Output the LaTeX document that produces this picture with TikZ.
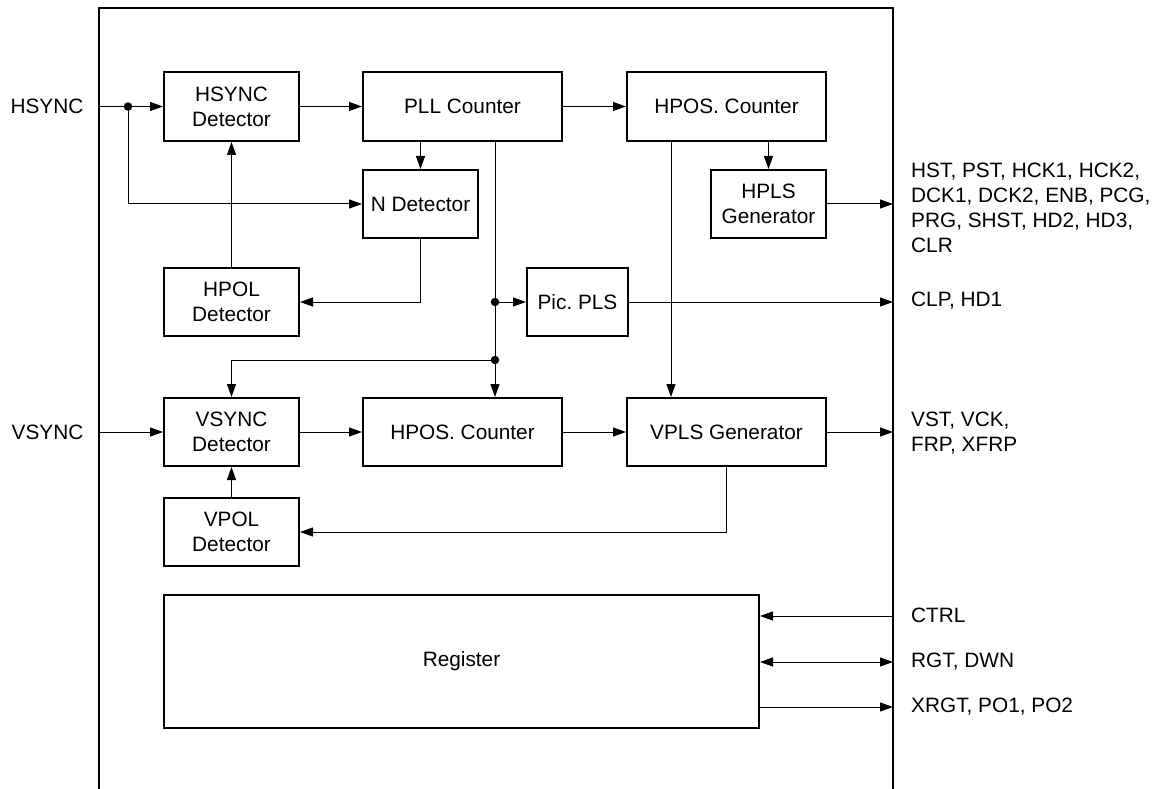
\documentclass[tikz,border=0pt]{standalone}
\usepackage{fontspec}
\setmainfont{Liberation Sans}
\usetikzlibrary{arrows.meta}
\frenchspacing
\begin{document}
\begin{tikzpicture}[x=1pt,y=-1pt,
  every node/.style={font=\fontsize{20.8}{25}\selectfont\frenchspacing},
  box/.style={draw,line width=2pt,align=center,inner sep=0pt},
  conn/.style={line width=1pt},
  arr/.style={conn,-{Triangle[length=13pt,width=9pt]}},
  darr/.style={conn,{Triangle[length=13pt,width=9pt]}-{Triangle[length=13pt,width=9pt]}},
  lbl/.style={anchor=west,align=left,inner sep=0pt},
  dot/.style={circle,fill,inner sep=0pt,minimum size=8.5pt}]
\useasboundingbox (0,0) rectangle (1163,789);
% frame (open at bottom)
\draw[line width=2pt] (99,792) -- (99,8) -- (893,8) -- (893,792);
\coordinate (FL) at (99,0);
\coordinate (FR) at (893,0);
% blocks
\node[box,minimum width=135pt,minimum height=69pt] (hsd) at (231.5,106.5) {HSYNC\\Detector};
\node[box,minimum width=199pt,minimum height=69pt] (pll) at (462.5,106.5) {PLL Counter};
\node[box,minimum width=199pt,minimum height=69pt] (hpt) at (726.5,106.5) {HPOS. Counter};
\node[box,minimum width=115pt,minimum height=68pt] (nd) at (420.5,204) {N Detector};
\node[box,minimum width=115pt,minimum height=68pt] (hpls) at (768.5,204) {HPLS\\Generator};
\node[box,minimum width=135pt,minimum height=68pt] (hpol) at (231.5,302) {HPOL\\Detector};
\node[box,minimum width=101pt,minimum height=68pt] (pic) at (577.5,302) {Pic. PLS};
\node[box,minimum width=135pt,minimum height=68pt] (vsd) at (231.5,432) {VSYNC\\Detector};
\node[box,minimum width=199pt,minimum height=68pt] (hpb) at (462.5,432) {HPOS. Counter};
\node[box,minimum width=199pt,minimum height=68pt] (vpls) at (726.5,432) {VPLS Generator};
\node[box,minimum width=135pt,minimum height=68pt] (vpol) at (231.5,532) {VPOL\\Detector};
\node[box,minimum width=595pt,minimum height=133pt] (reg) at (461.5,661.5) {Register};
% labels
\node (lh) at (47,106.5) {HSYNC};
\node (lv) at (47.5,432) {VSYNC};
\node[lbl] (o1) at (911,207.5) {HST, PST, HCK1, HCK2,\\DCK1, DCK2, ENB, PCG,\\PRG, SHST, HD2, HD3,\\CLR};
\node[lbl] (o2) at (911,301) {CLP, HD1};
\node[lbl] (o3) at (911,433) {VST, VCK,\\FRP, XFRP};
\node[lbl] (o4) at (911,615.5) {CTRL};
\node[lbl] (o5) at (911,661.5) {RGT, DWN};
\node[lbl] (o6) at (911,707) {XRGT, PO1, PO2};
% connectors
\coordinate (dh) at (128,106.5);
\draw[arr] (hsd.west -| FL) -- (hsd.west);
\node[dot] at (dh) {};
\draw[arr] (dh) |- (nd.west);
\draw[arr] (hsd.east) -- (pll.west);
\draw[arr] (pll.east) -- (hpt.west);
\draw[arr] (pll.south -| nd.north) -- (nd.north);
\draw[arr] (nd.south) |- (hpol.east);
\draw[arr] (hpol.north) -- (hsd.south);
\coordinate (d1) at (495,302);
\coordinate (d2) at (495,360);
\draw[conn] (pll.south -| d1) -- (d2);
\draw[arr] (d1) -- (pic.west);
\draw[arr] (d2) -- (hpb.north -| d2);
\draw[arr] (d2) -| (vsd.north);
\node[dot] at (d1) {};
\node[dot] at (d2) {};
\draw[arr] ([xshift=-55.5pt]hpt.south) -- ([xshift=-55.5pt]vpls.north);
\draw[arr] (hpt.south -| hpls.north) -- (hpls.north);
\draw[arr] (hpls.east) -- (hpls.east -| FR);
\draw[arr] (pic.east) -- (pic.east -| FR);
\draw[arr] (vsd.west -| FL) -- (vsd.west);
\draw[arr] (vsd.east) -- (hpb.west);
\draw[arr] (hpb.east) -- (vpls.west);
\draw[arr] (vpls.east) -- (vpls.east -| FR);
\draw[arr] (vpls.south) |- (vpol.east);
\draw[arr] (vpol.north) -- (vsd.south);
\coordinate (r1) at (893,616);
\coordinate (r2) at (893,662);
\coordinate (r3) at (893,707);
\draw[arr] (r1) -- (r1 -| reg.east);
\draw[darr] (r2 -| reg.east) -- (r2);
\draw[arr] (r3 -| reg.east) -- (r3);
\end{tikzpicture}
\end{document}
